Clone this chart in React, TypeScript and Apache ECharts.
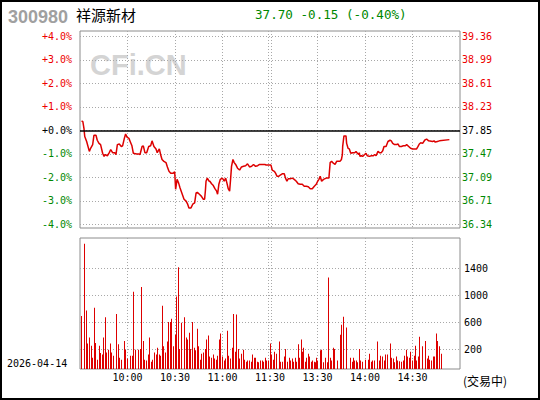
import React, { useEffect, useRef } from "react";
import * as echarts from "echarts";

// ---------- header / meta ----------
const stockCode = "300980";
const stockName = "祥源新材";
const tradeDate = "2026-04-14";
const statusText = "(交易中)";
const watermarkText = "CFi.CN";
const prevClose = 37.85;
const lastPrice = 37.7;
const priceChange = -0.15;
const pctChange = -0.4;

// ---------- axes ----------
const totalMinutes = 240;
const timeTickMinutes = [30, 60, 90, 120, 150, 180, 210];
const timeTickLabels = ["10:00", "10:30", "11:00", "11:30", "13:30", "14:00", "14:30"];
const xSplitMinutes = [30, 60, 90, 119.2, 120.5, 150, 180, 210];
const pctTicks = [-4, -3, -2, -1, 0, 1, 2, 3, 4];
const volTicks = [200, 600, 1000, 1400];

// ---------- price line (minute, price) ----------
const priceMinutes = [
  1.0, 1.8, 2.5, 3.0, 4.2, 5.9, 6.7, 8.0, 8.8, 10.1, 10.9, 12.0, 13.0, 14.3, 15.2, 16.0, 17.3, 18.5, 19.4, 20.6,
  21.9, 22.7, 23.6, 24.8, 26.1, 26.9, 28.0, 28.8, 29.7, 30.9, 32.0, 32.8, 33.7, 35.8, 37.0, 37.9, 39.2, 40.0, 41.0, 42.1,
  43.4, 44.6, 45.5, 46.7, 48.0, 48.8, 50.1, 50.9, 51.8, 53.0, 54.3, 55.2, 56.2, 57.3, 58.9, 59.8, 60.4, 61.3, 62.3, 63.2,
  64.2, 65.7, 67.0, 68.0, 68.8, 70.1, 71.2, 72.4, 73.3, 74.1, 75.4, 76.6, 77.9, 78.7, 79.2, 79.6, 80.4, 81.5, 82.0, 83.1,
  84.2, 85.2, 86.3, 86.9, 87.7, 88.6, 89.9, 91.1, 92.0, 92.8, 93.6, 94.5, 95.1, 95.7, 96.6, 97.4, 98.3, 99.5, 100.8, 102.0,
  103.3, 104.6, 105.8, 107.1, 108.4, 109.6, 110.9, 112.2, 113.4, 115.1, 116.8, 117.6, 119.3, 120.6, 121.4, 122.7, 123.5, 124.4, 125.6, 126.5,
  127.7, 129.0, 129.8, 130.7, 131.5, 132.8, 134.1, 135.3, 136.6, 137.8, 139.1, 140.4, 141.6, 142.9, 144.2, 145.4, 146.7, 148.0, 149.2, 150.1,
  150.9, 151.7, 152.6, 153.8, 155.5, 157.2, 158.0, 158.9, 160.0, 161.1, 162.1, 164.2, 165.1, 165.7, 165.9, 166.7, 168.0, 168.4, 169.3, 170.1,
  171.0, 172.2, 173.5, 174.3, 175.2, 176.0, 176.4, 176.8, 177.7, 178.5, 179.8, 180.6, 181.5, 182.7, 184.0, 185.3, 186.1, 187.0, 188.2, 189.1,
  190.3, 191.2, 192.0, 193.3, 194.5, 195.8, 196.6, 197.5, 198.7, 200.0, 200.8, 201.7, 203.0, 204.2, 205.5, 206.3, 207.6, 208.8, 210.1, 212.6,
  213.5, 214.3, 215.2, 216.4, 217.7, 218.9, 220.2, 222.7, 223.6, 224.4, 225.7, 227.0, 233.3,
];
const priceValues = [
  38.0, 37.99, 37.88, 37.75, 37.67, 37.51, 37.56, 37.62, 37.77, 37.77, 37.69, 37.64, 37.62, 37.48, 37.43, 37.46, 37.44, 37.49, 37.54, 37.49,
  37.49, 37.46, 37.62, 37.63, 37.59, 37.6, 37.72, 37.79, 37.74, 37.72, 37.65, 37.6, 37.48, 37.47, 37.47, 37.46, 37.59, 37.6, 37.49, 37.49,
  37.59, 37.6, 37.68, 37.59, 37.55, 37.49, 37.55, 37.46, 37.38, 37.35, 37.33, 37.26, 37.19, 37.16, 37.16, 37.18, 36.9, 37.06, 37.0, 36.92,
  36.85, 36.74, 36.71, 36.66, 36.6, 36.6, 36.66, 36.68, 36.84, 36.85, 36.82, 36.79, 36.74, 36.74, 36.88, 37.03, 37.08, 37.03, 37.03, 36.99,
  36.96, 36.91, 36.87, 36.82, 36.98, 37.06, 37.08, 37.03, 37.08, 37.0, 36.91, 36.87, 37.06, 37.27, 37.38, 37.33, 37.3, 37.24, 37.21, 37.26,
  37.27, 37.28, 37.31, 37.26, 37.27, 37.3, 37.27, 37.28, 37.3, 37.3, 37.3, 37.29, 37.29, 37.29, 37.21, 37.19, 37.16, 37.11, 37.11, 37.13,
  37.15, 37.15, 37.08, 37.03, 37.07, 37.07, 37.08, 37.06, 37.03, 36.99, 36.98, 36.98, 36.95, 36.95, 36.94, 36.91, 36.91, 36.95, 36.98, 37.03,
  37.06, 37.11, 37.03, 37.06, 37.08, 37.08, 37.33, 37.35, 37.32, 37.3, 37.35, 37.35, 37.38, 37.46, 37.59, 37.76, 37.76, 37.64, 37.56, 37.55,
  37.48, 37.49, 37.49, 37.51, 37.48, 37.46, 37.49, 37.43, 37.44, 37.43, 37.46, 37.48, 37.44, 37.43, 37.44, 37.44, 37.46, 37.44, 37.51, 37.49,
  37.49, 37.52, 37.59, 37.59, 37.67, 37.69, 37.68, 37.64, 37.62, 37.62, 37.63, 37.59, 37.59, 37.6, 37.6, 37.62, 37.59, 37.56, 37.55, 37.55,
  37.59, 37.63, 37.65, 37.64, 37.69, 37.71, 37.68, 37.67, 37.68, 37.66, 37.67, 37.68, 37.7,
];

// ---------- volume bars (minute, volume) ----------
const volMinutes = [
  1, 3, 4, 5, 6, 7, 8, 9, 10, 11, 12, 13, 14, 15, 16, 17, 18, 19, 20, 21,
  23, 24, 25, 26, 28, 29, 30, 32, 33, 34, 35, 37, 38, 39, 40, 41, 42, 43, 44, 45,
  46, 47, 48, 49, 50, 51, 52, 53, 54, 55, 56, 57, 58, 59, 60, 61, 62, 63, 64, 66,
  67, 68, 69, 70, 71, 72, 73, 74, 75, 76, 77, 78, 79, 80, 81, 82, 83, 84, 85, 86,
  87, 88, 89, 90, 91, 92, 93, 94, 95, 96, 97, 98, 99, 100, 101, 102, 103, 104, 105, 106,
  107, 108, 109, 110, 111, 112, 113, 114, 115, 116, 117, 118, 119, 120,
  120.6, 121.2, 122.5, 123.1, 124.4, 126.3, 126.9, 128.2, 129.4, 130.1, 131.3, 132.6, 133.2, 134.5, 135.1, 136.4, 137.0, 138.3, 138.9, 140.2,
  140.8, 141.4, 142.7, 143.3, 144.0, 145.2, 145.9, 147.1, 147.8, 149.0, 149.6, 150.3, 152.2, 152.8, 154.1, 155.3, 156.0, 157.2, 157.9, 159.1,
  159.8, 161.0, 162.9, 164.8, 165.4, 166.7, 168.0, 171.1, 171.8, 173.0, 173.6, 174.9, 175.5, 176.8, 177.4, 178.7, 180.0, 180.6, 181.9, 183.1,
  183.8, 185.0, 186.3, 188.2, 189.4, 190.1, 191.3, 192.6, 193.2, 194.5, 195.8, 196.4, 197.0, 198.3, 198.9, 200.2, 200.8, 202.1, 203.3, 204.0,
  205.2, 206.5, 207.1, 208.4, 209.0, 210.3, 211.5, 212.2, 212.8, 214.1, 214.7, 216.0, 216.6, 217.9, 218.5, 219.7, 220.4, 221.0, 222.3, 223.5,
  224.2, 225.4, 226.0, 226.9, 228.0,
];
const volValues = [
  690, 1760, 770, 280, 370, 250, 70, 810, 290, 40, 250, 140, 120, 370, 670, 150, 190, 280, 150, 100,
  720, 270, 70, 40, 320, 190, 60, 100, 100, 1050, 190, 190, 200, 1120, 320, 40, 30, 120, 370, 10,
  40, 150, 120, 220, 120, 100, 840, 240, 150, 310, 600, 600, 650, 240, 410, 980, 1410, 200, 590, 670,
  370, 340, 440, 200, 600, 220, 180, 500, 240, 40, 130, 150, 200, 340, 400, 90, 70, 120, 60, 40,
  100, 340, 430, 90, 30, 60, 470, 100, 60, 220, 720, 160, 710, 200, 60, 130, 190, 40, 10, 30,
  30, 10, 120, 70, 70, 10, 5, 30, 30, 10, 70, 30, 30, 5,
  280, 120, 40, 160, 130, 310, 10, 10, 90, 200, 10, 70, 30, 60, 10, 70, 10, 270, 70, 340,
  160, 220, 10, 70, 130, 90, 10, 30, 10, 5, 70, 30, 180, 190, 5, 70, 5, 1260, 70, 30,
  220, 200, 30, 410, 560, 680, 520, 70, 10, 70, 30, 30, 5, 200, 30, 10, 40, 10, 40, 130,
  10, 30, 30, 310, 30, 100, 90, 30, 120, 120, 40, 280, 70, 60, 5, 90, 30, 20, 10, 30,
  100, 190, 90, 70, 160, 30, 100, 250, 30, 90, 380, 240, 100, 320, 40, 60, 100, 40, 30, 90,
  90, 430, 320, 240, 130,
];

// ---------- layout / style constants ----------
const W = 540;
const H = 400;
const RED = "#dd0000";
const LABEL_RED = "#ee0000";
const GREEN = "#008800";
const GRID_LINE = "#a8a8a8";
const BORDER = "#8c8c8c";
const MONO = "'DejaVu Sans Mono', monospace";
const pctMin = -4.157;
const pctMax = 4.226;
const volMin = -96;
const volMax = 1845;

function trendColor(diff: number) {
  if (diff > 1e-6) return LABEL_RED;
  if (diff < -1e-6) return GREEN;
  return "#000";
}

export default function App() {
  const ref = useRef<HTMLDivElement>(null);

  useEffect(() => {
    if (!ref.current) return;
    const chart = echarts.init(ref.current, undefined, { renderer: "svg" });

    const priceTicks = pctTicks.map((p) => prevClose * (1 + p / 100));
    const dotted = { color: GRID_LINE, type: [1, 2] as any, width: 1 };

    const xAxisBase = (gridIndex: number, showLabel: boolean) => ({
      type: "value",
      gridIndex,
      min: 0,
      max: totalMinutes,
      axisLine: { show: false },
      axisTick: { show: false, customValues: xSplitMinutes },
      splitLine: { show: true, lineStyle: dotted },
      axisLabel: showLabel
        ? {
            show: true,
            customValues: timeTickMinutes,
            formatter: (v: any) => {
              const i = timeTickMinutes.indexOf(Number(v));
              return i >= 0 ? timeTickLabels[i] : "";
            },
            margin: 3,
            color: "#000",
            fontFamily: MONO,
            fontSize: 10,
          }
        : { show: false },
    });

    const option: any = {
      animation: false,
      backgroundColor: "#fff",
      grid: [
        { left: 80, top: 31, width: 380, height: 197, show: true, borderColor: BORDER, borderWidth: 1, backgroundColor: "transparent" },
        { left: 80, top: 238, width: 380, height: 131, show: true, borderColor: BORDER, borderWidth: 1, backgroundColor: "transparent" },
      ],
      xAxis: [xAxisBase(0, false), xAxisBase(1, true)],
      yAxis: [
        {
          type: "value",
          gridIndex: 0,
          position: "left",
          min: pctMin,
          max: pctMax,
          axisLine: { show: false },
          axisTick: { show: false, customValues: pctTicks },
          splitLine: { show: true, lineStyle: dotted },
          axisLabel: {
            customValues: pctTicks,
            margin: 8,
            fontFamily: MONO,
            fontSize: 10,
            formatter: (v: any) => {
              const n = Number(v);
              return (n >= 0 ? "+" : "") + n.toFixed(1) + "%";
            },
            color: (v: any) => trendColor(Number(v)),
          },
        },
        {
          type: "value",
          gridIndex: 0,
          position: "right",
          min: prevClose * (1 + pctMin / 100),
          max: prevClose * (1 + pctMax / 100),
          axisLine: { show: false },
          axisTick: { show: false, customValues: priceTicks },
          splitLine: { show: false },
          axisLabel: {
            customValues: priceTicks,
            margin: 2,
            fontFamily: MONO,
            fontSize: 10,
            formatter: (v: any) => Number(v).toFixed(2),
            color: (v: any) => trendColor(Number(v) - prevClose),
          },
        },
        {
          type: "value",
          gridIndex: 1,
          position: "right",
          min: volMin,
          max: volMax,
          axisLine: { show: false },
          axisTick: { show: false, customValues: volTicks },
          splitLine: { show: true, lineStyle: dotted },
          axisLabel: {
            customValues: volTicks,
            margin: 4,
            fontFamily: MONO,
            fontSize: 10,
            color: "#000",
            formatter: (v: any) => String(Math.round(Number(v))),
          },
        },
      ],
      series: [
        {
          type: "line",
          xAxisIndex: 0,
          yAxisIndex: 1,
          data: priceMinutes.map((m, i) => [m, priceValues[i]]),
          showSymbol: false,
          symbol: "none",
          lineStyle: { color: RED, width: 1.5 },
          z: 3,
          markLine: {
            silent: true,
            symbol: ["none", "none"],
            label: { show: false },
            lineStyle: { color: "#000", type: "solid", width: 1.5 },
            data: [{ yAxis: prevClose }],
          },
        },
        {
          type: "custom",
          xAxisIndex: 1,
          yAxisIndex: 2,
          data: volMinutes.map((m, i) => [m, volValues[i]]),
          renderItem: (params: any, api: any) => {
            const top = api.coord([api.value(0), api.value(1)]);
            const cs = params.coordSys;
            const bottom = cs.y + cs.height;
            const x = Math.floor(top[0]);
            return {
              type: "rect",
              shape: { x, y: top[1], width: 1, height: bottom - top[1] },
              style: { fill: RED },
            };
          },
        },
      ],
      graphic: [
        {
          type: "rect",
          shape: { x: 1, y: 1, width: W - 2, height: H - 2 },
          style: { fill: "none", stroke: "#000", lineWidth: 2 },
          silent: true,
          z: 10,
        },
        {
          type: "text",
          x: 90,
          y: 65,
          z: 0,
          style: {
            text: watermarkText,
            fill: "#d4d4d4",
            font: "bold 29px 'Liberation Sans', Arial, sans-serif",
            verticalAlign: "middle",
            align: "left",
          },
        },
        {
          type: "text",
          x: 8,
          y: 17,
          style: {
            text: stockCode,
            fill: "#a0a0a0",
            font: "bold 18px 'Liberation Sans', Arial, sans-serif",
            verticalAlign: "middle",
            align: "left",
          },
        },
        {
          type: "text",
          x: 76,
          y: 14,
          style: {
            text: stockName,
            fill: "#000",
            font: "15px 'Noto Sans CJK SC', sans-serif",
            verticalAlign: "middle",
            align: "left",
          },
        },
        {
          type: "text",
          x: 255,
          y: 14.5,
          style: {
            text: `${lastPrice.toFixed(2)} ${priceChange.toFixed(2)} (${pctChange.toFixed(2)}%)`,
            fill: trendColor(lastPrice - prevClose),
            font: "12.6px 'DejaVu Sans Mono', monospace",
            verticalAlign: "middle",
            align: "left",
          },
        },
        {
          type: "text",
          x: 7,
          y: 363,
          style: {
            text: tradeDate,
            fill: "#000",
            font: "10px 'DejaVu Sans Mono', monospace",
            verticalAlign: "middle",
            align: "left",
          },
        },
        {
          type: "text",
          x: 463,
          y: 380,
          style: {
            text: statusText,
            fill: "#000",
            font: "12px 'Noto Sans CJK SC', sans-serif",
            verticalAlign: "middle",
            align: "left",
          },
        },
      ],
    };

    chart.setOption(option);
    return () => chart.dispose();
  }, []);

  return (
    <div
      ref={ref}
      style={{ position: "fixed", left: 0, top: 0, width: W, height: H, background: "#fff" }}
    />
  );
}
